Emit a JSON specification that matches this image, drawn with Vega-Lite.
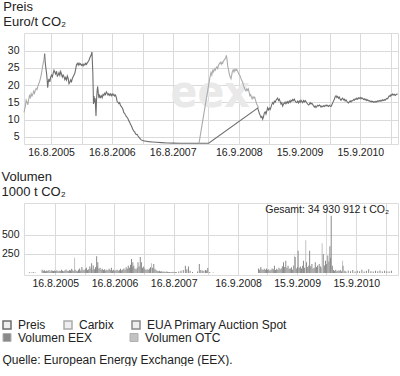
{
  "$schema": "https://vega.github.io/schema/vega-lite/v6.json",
  "padding": {"left": 0, "top": 0, "right": 3, "bottom": 0},
  "background": "white",
  "config": {
    "font": "Liberation Sans",
    "view": {"stroke": "#dcdcdc"},
    "axis": {"labelFont": "Liberation Sans", "labelFontSize": 10.5, "labelColor": "#222", "grid": true, "gridColor": "#dadada", "gridWidth": 1, "domain": false, "ticks": false, "title": null, "labelOverlap": false},
    "legend": {"labelFont": "Liberation Sans", "labelFontSize": 12, "labelColor": "#222"}
  },
  "datasets": {
    "price": [
      {"d":"2005-03-07","v":12.1,"s":"Carbix","g":"a"},{"d":"2005-03-11","v":13.0,"s":"Carbix","g":"a"},{"d":"2005-03-15","v":13.8,"s":"Carbix","g":"a"},{"d":"2005-03-20","v":15.6,"s":"Carbix","g":"a"},{"d":"2005-03-25","v":15.0,"s":"Carbix","g":"a"},{"d":"2005-03-30","v":14.3,"s":"Carbix","g":"a"},{"d":"2005-04-04","v":15.8,"s":"Carbix","g":"a"},{"d":"2005-04-09","v":16.9,"s":"Carbix","g":"a"},{"d":"2005-04-14","v":16.4,"s":"Carbix","g":"a"},{"d":"2005-04-19","v":17.5,"s":"Carbix","g":"a"},{"d":"2005-04-24","v":16.8,"s":"Carbix","g":"a"},{"d":"2005-04-29","v":17.3,"s":"Carbix","g":"a"},{"d":"2005-05-04","v":18.2,"s":"Carbix","g":"a"},{"d":"2005-05-09","v":17.6,"s":"Carbix","g":"a"},{"d":"2005-05-14","v":18.5,"s":"Carbix","g":"a"},{"d":"2005-05-19","v":19.0,"s":"Carbix","g":"a"},{"d":"2005-05-24","v":18.7,"s":"Carbix","g":"a"},{"d":"2005-05-29","v":19.6,"s":"Carbix","g":"a"},{"d":"2005-06-03","v":20.3,"s":"Carbix","g":"a"},{"d":"2005-06-08","v":20.9,"s":"Carbix","g":"a"},{"d":"2005-06-13","v":21.8,"s":"Carbix","g":"a"},{"d":"2005-06-18","v":22.9,"s":"Carbix","g":"a"},{"d":"2005-06-23","v":24.3,"s":"Carbix","g":"a"},{"d":"2005-06-28","v":25.8,"s":"Carbix","g":"a"},{"d":"2005-07-03","v":27.0,"s":"Carbix","g":"a"},{"d":"2005-07-07","v":28.2,"s":"Carbix","g":"a"},{"d":"2005-07-09","v":29.1,"s":"Carbix","g":"a"},
      {"d":"2005-07-09","v":29.1,"s":"Preis","g":"b"},{"d":"2005-07-12","v":26.8,"s":"Preis","g":"b"},{"d":"2005-07-16","v":25.0,"s":"Preis","g":"b"},{"d":"2005-07-20","v":23.6,"s":"Preis","g":"b"},{"d":"2005-07-24","v":21.5,"s":"Preis","g":"b"},{"d":"2005-07-27","v":19.2,"s":"Preis","g":"b"},{"d":"2005-07-31","v":21.0,"s":"Preis","g":"b"},{"d":"2005-08-04","v":21.8,"s":"Preis","g":"b"},{"d":"2005-08-09","v":20.9,"s":"Preis","g":"b"},{"d":"2005-08-14","v":22.3,"s":"Preis","g":"b"},{"d":"2005-08-19","v":22.9,"s":"Preis","g":"b"},{"d":"2005-08-24","v":22.4,"s":"Preis","g":"b"},{"d":"2005-08-29","v":23.4,"s":"Preis","g":"b"},{"d":"2005-09-03","v":24.3,"s":"Preis","g":"b"},{"d":"2005-09-08","v":23.7,"s":"Preis","g":"b"},{"d":"2005-09-13","v":23.2,"s":"Preis","g":"b"},{"d":"2005-09-18","v":24.0,"s":"Preis","g":"b"},{"d":"2005-09-23","v":22.6,"s":"Preis","g":"b"},{"d":"2005-09-28","v":22.9,"s":"Preis","g":"b"},{"d":"2005-10-03","v":23.6,"s":"Preis","g":"b"},{"d":"2005-10-08","v":22.8,"s":"Preis","g":"b"},{"d":"2005-10-13","v":23.9,"s":"Preis","g":"b"},{"d":"2005-10-18","v":23.2,"s":"Preis","g":"b"},{"d":"2005-10-23","v":22.3,"s":"Preis","g":"b"},{"d":"2005-10-28","v":22.9,"s":"Preis","g":"b"},{"d":"2005-11-02","v":22.4,"s":"Preis","g":"b"},{"d":"2005-11-07","v":21.6,"s":"Preis","g":"b"},{"d":"2005-11-12","v":22.2,"s":"Preis","g":"b"},{"d":"2005-11-17","v":21.5,"s":"Preis","g":"b"},{"d":"2005-11-22","v":22.6,"s":"Preis","g":"b"},{"d":"2005-11-27","v":21.9,"s":"Preis","g":"b"},{"d":"2005-12-02","v":20.4,"s":"Preis","g":"b"},{"d":"2005-12-07","v":20.8,"s":"Preis","g":"b"},{"d":"2005-12-12","v":21.5,"s":"Preis","g":"b"},{"d":"2005-12-17","v":21.0,"s":"Preis","g":"b"},{"d":"2005-12-22","v":21.9,"s":"Preis","g":"b"},{"d":"2005-12-27","v":22.4,"s":"Preis","g":"b"},{"d":"2006-01-01","v":22.9,"s":"Preis","g":"b"},{"d":"2006-01-06","v":23.4,"s":"Preis","g":"b"},{"d":"2006-01-11","v":24.6,"s":"Preis","g":"b"},{"d":"2006-01-16","v":25.9,"s":"Preis","g":"b"},{"d":"2006-01-21","v":26.3,"s":"Preis","g":"b"},{"d":"2006-01-26","v":25.8,"s":"Preis","g":"b"},{"d":"2006-01-31","v":26.4,"s":"Preis","g":"b"},{"d":"2006-02-05","v":25.9,"s":"Preis","g":"b"},{"d":"2006-02-10","v":26.2,"s":"Preis","g":"b"},{"d":"2006-02-15","v":25.7,"s":"Preis","g":"b"},{"d":"2006-02-20","v":26.0,"s":"Preis","g":"b"},{"d":"2006-02-25","v":25.6,"s":"Preis","g":"b"},{"d":"2006-03-02","v":26.1,"s":"Preis","g":"b"},{"d":"2006-03-07","v":25.8,"s":"Preis","g":"b"},{"d":"2006-03-12","v":26.3,"s":"Preis","g":"b"},{"d":"2006-03-17","v":26.0,"s":"Preis","g":"b"},{"d":"2006-03-22","v":26.5,"s":"Preis","g":"b"},{"d":"2006-03-27","v":26.8,"s":"Preis","g":"b"},{"d":"2006-04-01","v":27.2,"s":"Preis","g":"b"},{"d":"2006-04-06","v":27.9,"s":"Preis","g":"b"},{"d":"2006-04-11","v":28.4,"s":"Preis","g":"b"},{"d":"2006-04-16","v":29.0,"s":"Preis","g":"b"},{"d":"2006-04-19","v":29.6,"s":"Preis","g":"b"},{"d":"2006-04-21","v":27.0,"s":"Preis","g":"b"},{"d":"2006-04-24","v":23.5,"s":"Preis","g":"b"},{"d":"2006-04-26","v":19.0,"s":"Preis","g":"b"},{"d":"2006-04-28","v":14.5,"s":"Preis","g":"b"},{"d":"2006-05-01","v":16.8,"s":"Preis","g":"b"},{"d":"2006-05-04","v":15.0,"s":"Preis","g":"b"},{"d":"2006-05-08","v":16.2,"s":"Preis","g":"b"},{"d":"2006-05-11","v":13.0,"s":"Preis","g":"b"},{"d":"2006-05-13","v":11.0,"s":"Preis","g":"b"},{"d":"2006-05-16","v":15.5,"s":"Preis","g":"b"},{"d":"2006-05-20","v":18.5,"s":"Preis","g":"b"},{"d":"2006-05-23","v":19.6,"s":"Preis","g":"b"},{"d":"2006-05-27","v":17.5,"s":"Preis","g":"b"},{"d":"2006-05-31","v":16.2,"s":"Preis","g":"b"},{"d":"2006-06-04","v":17.0,"s":"Preis","g":"b"},{"d":"2006-06-09","v":16.4,"s":"Preis","g":"b"},{"d":"2006-06-14","v":16.9,"s":"Preis","g":"b"},{"d":"2006-06-19","v":16.3,"s":"Preis","g":"b"},{"d":"2006-06-24","v":17.3,"s":"Preis","g":"b"},{"d":"2006-06-29","v":17.0,"s":"Preis","g":"b"},{"d":"2006-07-04","v":17.6,"s":"Preis","g":"b"},{"d":"2006-07-09","v":17.2,"s":"Preis","g":"b"},{"d":"2006-07-14","v":18.0,"s":"Preis","g":"b"},{"d":"2006-07-19","v":17.6,"s":"Preis","g":"b"},{"d":"2006-07-24","v":17.1,"s":"Preis","g":"b"},{"d":"2006-07-29","v":17.5,"s":"Preis","g":"b"},{"d":"2006-08-03","v":17.0,"s":"Preis","g":"b"},{"d":"2006-08-08","v":17.4,"s":"Preis","g":"b"},{"d":"2006-08-13","v":16.9,"s":"Preis","g":"b"},{"d":"2006-08-18","v":17.4,"s":"Preis","g":"b"},{"d":"2006-08-23","v":17.0,"s":"Preis","g":"b"},{"d":"2006-08-28","v":17.3,"s":"Preis","g":"b"},{"d":"2006-09-02","v":16.8,"s":"Preis","g":"b"},{"d":"2006-09-07","v":17.1,"s":"Preis","g":"b"},{"d":"2006-09-12","v":16.4,"s":"Preis","g":"b"},{"d":"2006-09-17","v":15.2,"s":"Preis","g":"b"},{"d":"2006-09-22","v":15.0,"s":"Preis","g":"b"},{"d":"2006-09-27","v":14.6,"s":"Preis","g":"b"},{"d":"2006-10-02","v":14.9,"s":"Preis","g":"b"},{"d":"2006-10-07","v":14.0,"s":"Preis","g":"b"},{"d":"2006-10-12","v":13.8,"s":"Preis","g":"b"},{"d":"2006-10-17","v":13.4,"s":"Preis","g":"b"},{"d":"2006-10-22","v":12.9,"s":"Preis","g":"b"},{"d":"2006-10-27","v":12.0,"s":"Preis","g":"b"},{"d":"2006-11-01","v":11.8,"s":"Preis","g":"b"},{"d":"2006-11-06","v":11.3,"s":"Preis","g":"b"},{"d":"2006-11-11","v":10.9,"s":"Preis","g":"b"},{"d":"2006-11-16","v":10.6,"s":"Preis","g":"b"},{"d":"2006-11-21","v":10.2,"s":"Preis","g":"b"},{"d":"2006-11-26","v":9.6,"s":"Preis","g":"b"},{"d":"2006-12-01","v":9.2,"s":"Preis","g":"b"},{"d":"2006-12-06","v":8.6,"s":"Preis","g":"b"},{"d":"2006-12-11","v":8.2,"s":"Preis","g":"b"},{"d":"2006-12-16","v":7.6,"s":"Preis","g":"b"},{"d":"2006-12-21","v":7.0,"s":"Preis","g":"b"},{"d":"2006-12-26","v":6.6,"s":"Preis","g":"b"},{"d":"2006-12-31","v":6.4,"s":"Preis","g":"b"},{"d":"2007-01-05","v":5.9,"s":"Preis","g":"b"},{"d":"2007-01-10","v":5.6,"s":"Preis","g":"b"},{"d":"2007-01-15","v":5.7,"s":"Preis","g":"b"},{"d":"2007-01-20","v":5.2,"s":"Preis","g":"b"},{"d":"2007-01-25","v":4.9,"s":"Preis","g":"b"},{"d":"2007-01-30","v":4.6,"s":"Preis","g":"b"},{"d":"2007-02-04","v":4.3,"s":"Preis","g":"b"},{"d":"2007-02-09","v":4.1,"s":"Preis","g":"b"},{"d":"2007-02-16","v":3.9,"s":"Preis","g":"b"},{"d":"2007-02-25","v":3.8,"s":"Preis","g":"b"},{"d":"2007-03-10","v":3.7,"s":"Preis","g":"b"},{"d":"2007-03-25","v":3.6,"s":"Preis","g":"b"},{"d":"2007-04-15","v":3.5,"s":"Preis","g":"b"},{"d":"2007-05-10","v":3.4,"s":"Preis","g":"b"},{"d":"2007-06-10","v":3.3,"s":"Preis","g":"b"},{"d":"2007-07-15","v":3.2,"s":"Preis","g":"b"},{"d":"2007-08-20","v":3.15,"s":"Preis","g":"b"},{"d":"2007-10-01","v":3.1,"s":"Preis","g":"b"},{"d":"2007-11-15","v":3.1,"s":"Preis","g":"b"},{"d":"2008-01-05","v":3.1,"s":"Preis","g":"b"},{"d":"2008-03-19","v":3.1,"s":"Preis","g":"b"},
      {"d":"2009-01-07","v":13.3,"s":"Preis","g":"b"},{"d":"2009-01-12","v":12.6,"s":"Preis","g":"b"},{"d":"2009-01-17","v":11.8,"s":"Preis","g":"b"},{"d":"2009-01-22","v":11.2,"s":"Preis","g":"b"},{"d":"2009-01-27","v":10.6,"s":"Preis","g":"b"},{"d":"2009-02-01","v":10.9,"s":"Preis","g":"b"},{"d":"2009-02-06","v":10.1,"s":"Preis","g":"b"},{"d":"2009-02-11","v":10.8,"s":"Preis","g":"b"},{"d":"2009-02-16","v":11.9,"s":"Preis","g":"b"},{"d":"2009-02-21","v":12.2,"s":"Preis","g":"b"},{"d":"2009-02-26","v":11.6,"s":"Preis","g":"b"},{"d":"2009-03-03","v":12.5,"s":"Preis","g":"b"},{"d":"2009-03-08","v":13.4,"s":"Preis","g":"b"},{"d":"2009-03-13","v":12.8,"s":"Preis","g":"b"},{"d":"2009-03-18","v":13.3,"s":"Preis","g":"b"},{"d":"2009-03-23","v":12.9,"s":"Preis","g":"b"},{"d":"2009-03-28","v":13.6,"s":"Preis","g":"b"},{"d":"2009-04-02","v":14.4,"s":"Preis","g":"b"},{"d":"2009-04-07","v":14.9,"s":"Preis","g":"b"},{"d":"2009-04-12","v":14.5,"s":"Preis","g":"b"},{"d":"2009-04-17","v":15.3,"s":"Preis","g":"b"},{"d":"2009-04-22","v":15.0,"s":"Preis","g":"b"},{"d":"2009-04-27","v":15.6,"s":"Preis","g":"b"},{"d":"2009-05-02","v":15.9,"s":"Preis","g":"b"},{"d":"2009-05-07","v":16.2,"s":"Preis","g":"b"},{"d":"2009-05-12","v":15.5,"s":"Preis","g":"b"},{"d":"2009-05-17","v":15.9,"s":"Preis","g":"b"},{"d":"2009-05-22","v":15.2,"s":"Preis","g":"b"},{"d":"2009-05-27","v":14.5,"s":"Preis","g":"b"},{"d":"2009-06-01","v":14.9,"s":"Preis","g":"b"},{"d":"2009-06-06","v":13.9,"s":"Preis","g":"b"},{"d":"2009-06-11","v":14.4,"s":"Preis","g":"b"},{"d":"2009-06-16","v":14.9,"s":"Preis","g":"b"},{"d":"2009-06-21","v":14.6,"s":"Preis","g":"b"},{"d":"2009-06-26","v":15.1,"s":"Preis","g":"b"},{"d":"2009-07-01","v":14.7,"s":"Preis","g":"b"},{"d":"2009-07-06","v":15.2,"s":"Preis","g":"b"},{"d":"2009-07-11","v":14.8,"s":"Preis","g":"b"},{"d":"2009-07-16","v":15.4,"s":"Preis","g":"b"},{"d":"2009-07-21","v":15.0,"s":"Preis","g":"b"},{"d":"2009-07-26","v":15.6,"s":"Preis","g":"b"},{"d":"2009-07-31","v":15.3,"s":"Preis","g":"b"},{"d":"2009-08-05","v":15.8,"s":"Preis","g":"b"},{"d":"2009-08-10","v":15.5,"s":"Preis","g":"b"},{"d":"2009-08-15","v":15.9,"s":"Preis","g":"b"},{"d":"2009-08-20","v":15.4,"s":"Preis","g":"b"},{"d":"2009-08-25","v":15.0,"s":"Preis","g":"b"},{"d":"2009-08-30","v":14.9,"s":"Preis","g":"b"},{"d":"2009-09-04","v":15.3,"s":"Preis","g":"b"},{"d":"2009-09-09","v":14.8,"s":"Preis","g":"b"},{"d":"2009-09-14","v":15.4,"s":"Preis","g":"b"},{"d":"2009-09-19","v":15.0,"s":"Preis","g":"b"},{"d":"2009-09-24","v":15.6,"s":"Preis","g":"b"},{"d":"2009-09-29","v":15.2,"s":"Preis","g":"b"},{"d":"2009-10-04","v":14.9,"s":"Preis","g":"b"},{"d":"2009-10-09","v":15.5,"s":"Preis","g":"b"},{"d":"2009-10-14","v":15.1,"s":"Preis","g":"b"},{"d":"2009-10-19","v":15.5,"s":"Preis","g":"b"},{"d":"2009-10-24","v":15.2,"s":"Preis","g":"b"},{"d":"2009-10-29","v":14.8,"s":"Preis","g":"b"},{"d":"2009-11-03","v":14.5,"s":"Preis","g":"b"},{"d":"2009-11-08","v":14.2,"s":"Preis","g":"b"},{"d":"2009-11-13","v":14.4,"s":"Preis","g":"b"},{"d":"2009-11-18","v":14.9,"s":"Preis","g":"b"},{"d":"2009-11-23","v":14.5,"s":"Preis","g":"b"},{"d":"2009-11-28","v":14.7,"s":"Preis","g":"b"},{"d":"2009-12-03","v":14.4,"s":"Preis","g":"b"},{"d":"2009-12-08","v":14.0,"s":"Preis","g":"b"},{"d":"2009-12-13","v":13.6,"s":"Preis","g":"b"},{"d":"2009-12-18","v":13.9,"s":"Preis","g":"b"},{"d":"2009-12-23","v":13.5,"s":"Preis","g":"b"},{"d":"2009-12-28","v":13.8,"s":"Preis","g":"b"},{"d":"2010-01-02","v":14.1,"s":"Preis","g":"b"},{"d":"2010-01-07","v":13.9,"s":"Preis","g":"b"},{"d":"2010-01-12","v":14.2,"s":"Preis","g":"b"},{"d":"2010-01-17","v":14.0,"s":"Preis","g":"b"},{"d":"2010-01-22","v":13.6,"s":"Preis","g":"b"},{"d":"2010-01-27","v":13.9,"s":"Preis","g":"b"},{"d":"2010-02-01","v":13.7,"s":"Preis","g":"b"},{"d":"2010-02-06","v":14.0,"s":"Preis","g":"b"},{"d":"2010-02-11","v":13.8,"s":"Preis","g":"b"},{"d":"2010-02-16","v":14.1,"s":"Preis","g":"b"},{"d":"2010-02-21","v":13.9,"s":"Preis","g":"b"},{"d":"2010-02-26","v":14.2,"s":"Preis","g":"b"},{"d":"2010-03-03","v":14.0,"s":"Preis","g":"b"},{"d":"2010-03-08","v":13.8,"s":"Preis","g":"b"},{"d":"2010-03-13","v":14.1,"s":"Preis","g":"b"},{"d":"2010-03-18","v":13.9,"s":"Preis","g":"b"},{"d":"2010-03-23","v":13.8,"s":"Preis","g":"b"},{"d":"2010-03-28","v":14.3,"s":"Preis","g":"b"},{"d":"2010-04-02","v":14.8,"s":"Preis","g":"b"},{"d":"2010-04-07","v":15.4,"s":"Preis","g":"b"},{"d":"2010-04-12","v":15.9,"s":"Preis","g":"b"},{"d":"2010-04-17","v":16.6,"s":"Preis","g":"b"},{"d":"2010-04-22","v":16.9,"s":"Preis","g":"b"},{"d":"2010-04-27","v":16.4,"s":"Preis","g":"b"},{"d":"2010-05-02","v":16.7,"s":"Preis","g":"b"},{"d":"2010-05-07","v":16.2,"s":"Preis","g":"b"},{"d":"2010-05-12","v":16.5,"s":"Preis","g":"b"},{"d":"2010-05-17","v":15.9,"s":"Preis","g":"b"},{"d":"2010-05-22","v":15.6,"s":"Preis","g":"b"},{"d":"2010-05-27","v":16.0,"s":"Preis","g":"b"},{"d":"2010-06-01","v":16.2,"s":"Preis","g":"b"},{"d":"2010-06-06","v":15.7,"s":"Preis","g":"b"},{"d":"2010-06-11","v":15.9,"s":"Preis","g":"b"},{"d":"2010-06-16","v":15.4,"s":"Preis","g":"b"},{"d":"2010-06-21","v":15.7,"s":"Preis","g":"b"},{"d":"2010-06-26","v":15.3,"s":"Preis","g":"b"},{"d":"2010-07-01","v":15.0,"s":"Preis","g":"b"},{"d":"2010-07-06","v":14.8,"s":"Preis","g":"b"},{"d":"2010-07-11","v":15.1,"s":"Preis","g":"b"},{"d":"2010-07-16","v":15.4,"s":"Preis","g":"b"},{"d":"2010-07-21","v":15.1,"s":"Preis","g":"b"},{"d":"2010-07-26","v":15.5,"s":"Preis","g":"b"},{"d":"2010-07-31","v":15.4,"s":"Preis","g":"b"},{"d":"2010-08-05","v":15.8,"s":"Preis","g":"b"},{"d":"2010-08-10","v":15.6,"s":"Preis","g":"b"},{"d":"2010-08-15","v":16.0,"s":"Preis","g":"b"},{"d":"2010-08-20","v":15.8,"s":"Preis","g":"b"},{"d":"2010-08-25","v":16.2,"s":"Preis","g":"b"},{"d":"2010-08-30","v":15.9,"s":"Preis","g":"b"},{"d":"2010-09-04","v":16.3,"s":"Preis","g":"b"},{"d":"2010-09-09","v":16.1,"s":"Preis","g":"b"},{"d":"2010-09-14","v":16.4,"s":"Preis","g":"b"},{"d":"2010-09-19","v":16.0,"s":"Preis","g":"b"},{"d":"2010-09-24","v":16.3,"s":"Preis","g":"b"},{"d":"2010-09-29","v":16.1,"s":"Preis","g":"b"},{"d":"2010-10-04","v":15.8,"s":"Preis","g":"b"},{"d":"2010-10-09","v":16.0,"s":"Preis","g":"b"},{"d":"2010-10-14","v":15.7,"s":"Preis","g":"b"},{"d":"2010-10-19","v":15.9,"s":"Preis","g":"b"},{"d":"2010-10-24","v":15.5,"s":"Preis","g":"b"},{"d":"2010-10-29","v":15.7,"s":"Preis","g":"b"},{"d":"2010-11-03","v":15.4,"s":"Preis","g":"b"},{"d":"2010-11-08","v":15.5,"s":"Preis","g":"b"},{"d":"2010-11-13","v":15.2,"s":"Preis","g":"b"},{"d":"2010-11-18","v":15.4,"s":"Preis","g":"b"},{"d":"2010-11-23","v":15.1,"s":"Preis","g":"b"},{"d":"2010-11-28","v":15.3,"s":"Preis","g":"b"},{"d":"2010-12-03","v":15.0,"s":"Preis","g":"b"},{"d":"2010-12-08","v":15.2,"s":"Preis","g":"b"},{"d":"2010-12-13","v":15.0,"s":"Preis","g":"b"},{"d":"2010-12-18","v":15.3,"s":"Preis","g":"b"},{"d":"2010-12-23","v":15.1,"s":"Preis","g":"b"},{"d":"2010-12-28","v":15.4,"s":"Preis","g":"b"},{"d":"2011-01-02","v":15.3,"s":"Preis","g":"b"},{"d":"2011-01-07","v":15.5,"s":"Preis","g":"b"},{"d":"2011-01-12","v":15.3,"s":"Preis","g":"b"},{"d":"2011-01-17","v":15.6,"s":"Preis","g":"b"},{"d":"2011-01-22","v":15.4,"s":"Preis","g":"b"},{"d":"2011-01-27","v":15.7,"s":"Preis","g":"b"},{"d":"2011-02-01","v":15.5,"s":"Preis","g":"b"},{"d":"2011-02-06","v":15.8,"s":"Preis","g":"b"},{"d":"2011-02-11","v":15.6,"s":"Preis","g":"b"},{"d":"2011-02-16","v":15.9,"s":"Preis","g":"b"},{"d":"2011-02-21","v":16.1,"s":"Preis","g":"b"},{"d":"2011-02-26","v":16.0,"s":"Preis","g":"b"},{"d":"2011-03-03","v":16.5,"s":"Preis","g":"b"},{"d":"2011-03-08","v":16.9,"s":"Preis","g":"b"},{"d":"2011-03-13","v":16.7,"s":"Preis","g":"b"},{"d":"2011-03-18","v":17.2,"s":"Preis","g":"b"},{"d":"2011-03-23","v":17.0,"s":"Preis","g":"b"},{"d":"2011-03-28","v":17.4,"s":"Preis","g":"b"},{"d":"2011-04-02","v":17.1,"s":"Preis","g":"b"},{"d":"2011-04-07","v":17.3,"s":"Preis","g":"b"},{"d":"2011-04-12","v":17.0,"s":"Preis","g":"b"},{"d":"2011-04-17","v":17.2,"s":"Preis","g":"b"},{"d":"2011-04-22","v":17.4,"s":"Preis","g":"b"},{"d":"2011-04-27","v":17.3,"s":"Preis","g":"b"},
      {"d":"2008-01-21","v":3.1,"s":"Carbix","g":"c"},{"d":"2008-03-23","v":21.3,"s":"Carbix","g":"c"},{"d":"2008-03-28","v":22.5,"s":"Carbix","g":"c"},{"d":"2008-04-02","v":23.6,"s":"Carbix","g":"c"},{"d":"2008-04-07","v":22.9,"s":"Carbix","g":"c"},{"d":"2008-04-12","v":24.2,"s":"Carbix","g":"c"},{"d":"2008-04-17","v":23.8,"s":"Carbix","g":"c"},{"d":"2008-04-22","v":24.7,"s":"Carbix","g":"c"},{"d":"2008-04-27","v":24.3,"s":"Carbix","g":"c"},{"d":"2008-05-02","v":24.9,"s":"Carbix","g":"c"},{"d":"2008-05-07","v":25.3,"s":"Carbix","g":"c"},{"d":"2008-05-12","v":24.8,"s":"Carbix","g":"c"},{"d":"2008-05-16","v":25.6,"s":"Carbix","g":"c"},{"d":"2008-05-21","v":26.1,"s":"Carbix","g":"c"},{"d":"2008-05-28","v":26.6,"s":"Carbix","g":"c"},{"d":"2008-06-02","v":26.0,"s":"Carbix","g":"c"},{"d":"2008-06-07","v":26.6,"s":"Carbix","g":"c"},{"d":"2008-06-11","v":26.3,"s":"Carbix","g":"c"},{"d":"2008-06-16","v":27.0,"s":"Carbix","g":"c"},{"d":"2008-06-21","v":27.3,"s":"Carbix","g":"c"},{"d":"2008-06-25","v":27.6,"s":"Carbix","g":"c"},{"d":"2008-06-30","v":28.0,"s":"Carbix","g":"c"},{"d":"2008-07-03","v":28.6,"s":"Carbix","g":"c"},{"d":"2008-07-07","v":27.5,"s":"Carbix","g":"c"},{"d":"2008-07-11","v":25.6,"s":"Carbix","g":"c"},{"d":"2008-07-16","v":24.5,"s":"Carbix","g":"c"},{"d":"2008-07-21","v":23.2,"s":"Carbix","g":"c"},{"d":"2008-07-26","v":22.3,"s":"Carbix","g":"c"},{"d":"2008-07-31","v":21.8,"s":"Carbix","g":"c"},{"d":"2008-08-04","v":22.8,"s":"Carbix","g":"c"},{"d":"2008-08-08","v":23.9,"s":"Carbix","g":"c"},{"d":"2008-08-13","v":24.4,"s":"Carbix","g":"c"},{"d":"2008-08-18","v":23.8,"s":"Carbix","g":"c"},{"d":"2008-08-24","v":24.6,"s":"Carbix","g":"c"},{"d":"2008-08-29","v":24.2,"s":"Carbix","g":"c"},{"d":"2008-09-03","v":24.5,"s":"Carbix","g":"c"},{"d":"2008-09-09","v":24.0,"s":"Carbix","g":"c"},{"d":"2008-09-14","v":23.4,"s":"Carbix","g":"c"},{"d":"2008-09-19","v":23.0,"s":"Carbix","g":"c"},{"d":"2008-09-23","v":22.7,"s":"Carbix","g":"c"},{"d":"2008-09-28","v":22.0,"s":"Carbix","g":"c"},{"d":"2008-10-03","v":21.4,"s":"Carbix","g":"c"},{"d":"2008-10-09","v":20.8,"s":"Carbix","g":"c"},{"d":"2008-10-14","v":19.9,"s":"Carbix","g":"c"},{"d":"2008-10-19","v":19.2,"s":"Carbix","g":"c"},{"d":"2008-10-24","v":18.6,"s":"Carbix","g":"c"},{"d":"2008-10-29","v":18.3,"s":"Carbix","g":"c"},{"d":"2008-11-03","v":18.9,"s":"Carbix","g":"c"},{"d":"2008-11-08","v":18.5,"s":"Carbix","g":"c"},{"d":"2008-11-12","v":18.9,"s":"Carbix","g":"c"},{"d":"2008-11-17","v":17.9,"s":"Carbix","g":"c"},{"d":"2008-11-21","v":16.9,"s":"Carbix","g":"c"},{"d":"2008-11-26","v":17.2,"s":"Carbix","g":"c"},{"d":"2008-12-01","v":16.4,"s":"Carbix","g":"c"},{"d":"2008-12-05","v":16.0,"s":"Carbix","g":"c"},{"d":"2008-12-10","v":16.6,"s":"Carbix","g":"c"},{"d":"2008-12-15","v":16.2,"s":"Carbix","g":"c"},{"d":"2008-12-20","v":16.5,"s":"Carbix","g":"c"},{"d":"2008-12-25","v":15.6,"s":"Carbix","g":"c"},{"d":"2009-01-01","v":14.5,"s":"Carbix","g":"c"},{"d":"2009-01-07","v":14.0,"s":"Carbix","g":"c"},{"d":"2009-01-12","v":13.3,"s":"Carbix","g":"c"}
    ],
    "volume": [
      {"d":"2005-03-09","v":12,"k":"Volumen EEX"},{"d":"2005-03-21","v":9,"k":"Volumen EEX"},{"d":"2005-04-02","v":14,"k":"Volumen EEX"},{"d":"2005-04-14","v":8,"k":"Volumen EEX"},
      {"d":"2005-05-27","v":45,"k":"Volumen EEX"},{"d":"2005-06-03","v":30,"k":"Volumen EEX"},{"d":"2005-06-10","v":38,"k":"Volumen EEX"},{"d":"2005-06-17","v":25,"k":"Volumen EEX"},{"d":"2005-06-24","v":35,"k":"Volumen EEX"},{"d":"2005-07-01","v":28,"k":"Volumen EEX"},{"d":"2005-07-08","v":40,"k":"Volumen EEX"},{"d":"2005-07-15","v":22,"k":"Volumen EEX"},{"d":"2005-07-22","v":36,"k":"Volumen EEX"},{"d":"2005-07-29","v":30,"k":"Volumen EEX"},{"d":"2005-08-05","v":26,"k":"Volumen EEX"},{"d":"2005-08-12","v":34,"k":"Volumen EEX"},{"d":"2005-08-19","v":28,"k":"Volumen EEX"},{"d":"2005-08-26","v":38,"k":"Volumen EEX"},{"d":"2005-09-02","v":24,"k":"Volumen EEX"},{"d":"2005-09-09","v":32,"k":"Volumen EEX"},{"d":"2005-09-16","v":27,"k":"Volumen EEX"},{"d":"2005-09-23","v":42,"k":"Volumen EEX"},{"d":"2005-09-30","v":30,"k":"Volumen EEX"},{"d":"2005-10-07","v":25,"k":"Volumen EEX"},{"d":"2005-10-14","v":35,"k":"Volumen EEX"},{"d":"2005-10-21","v":48,"k":"Volumen EEX"},{"d":"2005-10-28","v":30,"k":"Volumen EEX"},{"d":"2005-11-04","v":26,"k":"Volumen EEX"},{"d":"2005-11-11","v":40,"k":"Volumen EEX"},{"d":"2005-11-18","v":33,"k":"Volumen EEX"},{"d":"2005-11-25","v":55,"k":"Volumen EEX"},{"d":"2005-12-02","v":38,"k":"Volumen EEX"},{"d":"2005-12-09","v":28,"k":"Volumen EEX"},{"d":"2005-12-13","v":200,"k":"Volumen OTC"},{"d":"2005-12-16","v":45,"k":"Volumen EEX"},{"d":"2005-12-23","v":30,"k":"Volumen EEX"},{"d":"2005-12-30","v":25,"k":"Volumen EEX"},
      {"d":"2006-01-06","v":42,"k":"Volumen EEX"},{"d":"2006-01-13","v":60,"k":"Volumen EEX"},{"d":"2006-01-20","v":35,"k":"Volumen EEX"},{"d":"2006-01-27","v":80,"k":"Volumen EEX"},{"d":"2006-02-03","v":45,"k":"Volumen EEX"},{"d":"2006-02-10","v":38,"k":"Volumen EEX"},{"d":"2006-02-17","v":55,"k":"Volumen EEX"},{"d":"2006-02-24","v":70,"k":"Volumen EEX"},{"d":"2006-03-03","v":40,"k":"Volumen EEX"},{"d":"2006-03-10","v":50,"k":"Volumen EEX"},{"d":"2006-03-17","v":85,"k":"Volumen EEX"},{"d":"2006-03-24","v":60,"k":"Volumen EEX"},{"d":"2006-03-28","v":130,"k":"Volumen EEX"},{"d":"2006-03-31","v":45,"k":"Volumen EEX"},{"d":"2006-04-07","v":100,"k":"Volumen EEX"},{"d":"2006-04-14","v":50,"k":"Volumen EEX"},{"d":"2006-04-21","v":75,"k":"Volumen EEX"},{"d":"2006-04-28","v":220,"k":"Volumen EEX"},{"d":"2006-05-02","v":90,"k":"Volumen EEX"},{"d":"2006-05-05","v":140,"k":"Volumen EEX"},{"d":"2006-05-12","v":60,"k":"Volumen EEX"},{"d":"2006-05-19","v":70,"k":"Volumen EEX"},{"d":"2006-05-26","v":45,"k":"Volumen EEX"},{"d":"2006-06-02","v":55,"k":"Volumen EEX"},{"d":"2006-06-09","v":40,"k":"Volumen EEX"},{"d":"2006-06-16","v":50,"k":"Volumen EEX"},{"d":"2006-06-23","v":35,"k":"Volumen EEX"},{"d":"2006-06-30","v":45,"k":"Volumen EEX"},{"d":"2006-07-07","v":38,"k":"Volumen EEX"},{"d":"2006-07-14","v":55,"k":"Volumen EEX"},{"d":"2006-07-21","v":40,"k":"Volumen EEX"},{"d":"2006-07-28","v":70,"k":"Volumen EEX"},{"d":"2006-08-04","v":35,"k":"Volumen EEX"},{"d":"2006-08-11","v":42,"k":"Volumen EEX"},{"d":"2006-08-18","v":30,"k":"Volumen EEX"},{"d":"2006-08-25","v":38,"k":"Volumen EEX"},{"d":"2006-09-01","v":45,"k":"Volumen EEX"},{"d":"2006-09-08","v":32,"k":"Volumen EEX"},{"d":"2006-09-15","v":40,"k":"Volumen EEX"},{"d":"2006-09-22","v":55,"k":"Volumen EEX"},{"d":"2006-09-29","v":36,"k":"Volumen EEX"},{"d":"2006-10-06","v":48,"k":"Volumen EEX"},{"d":"2006-10-13","v":60,"k":"Volumen EEX"},{"d":"2006-10-20","v":42,"k":"Volumen EEX"},{"d":"2006-10-27","v":75,"k":"Volumen EEX"},{"d":"2006-11-03","v":55,"k":"Volumen EEX"},{"d":"2006-11-09","v":95,"k":"Volumen EEX"},{"d":"2006-11-16","v":70,"k":"Volumen EEX"},{"d":"2006-11-23","v":110,"k":"Volumen EEX"},{"d":"2006-11-29","v":185,"k":"Volumen EEX"},{"d":"2006-12-03","v":80,"k":"Volumen EEX"},{"d":"2006-12-07","v":140,"k":"Volumen EEX"},{"d":"2006-12-13","v":95,"k":"Volumen EEX"},{"d":"2006-12-20","v":60,"k":"Volumen EEX"},{"d":"2006-12-27","v":50,"k":"Volumen EEX"},
      {"d":"2007-01-03","v":70,"k":"Volumen EEX"},{"d":"2007-01-08","v":140,"k":"Volumen EEX"},{"d":"2007-01-15","v":90,"k":"Volumen EEX"},{"d":"2007-01-22","v":210,"k":"Volumen EEX"},{"d":"2007-01-29","v":140,"k":"Volumen EEX"},{"d":"2007-02-05","v":70,"k":"Volumen EEX"},{"d":"2007-02-12","v":85,"k":"Volumen EEX"},{"d":"2007-02-19","v":55,"k":"Volumen EEX"},{"d":"2007-02-26","v":40,"k":"Volumen EEX"},{"d":"2007-03-05","v":50,"k":"Volumen EEX"},{"d":"2007-03-12","v":45,"k":"Volumen EEX"},{"d":"2007-03-19","v":60,"k":"Volumen EEX"},{"d":"2007-03-26","v":75,"k":"Volumen EEX"},{"d":"2007-04-01","v":130,"k":"Volumen OTC"},{"d":"2007-04-08","v":70,"k":"Volumen EEX"},{"d":"2007-04-15","v":120,"k":"Volumen EEX"},{"d":"2007-04-22","v":55,"k":"Volumen EEX"},{"d":"2007-04-29","v":40,"k":"Volumen EEX"},{"d":"2007-05-06","v":30,"k":"Volumen EEX"},{"d":"2007-05-13","v":25,"k":"Volumen EEX"},{"d":"2007-05-20","v":30,"k":"Volumen EEX"},{"d":"2007-05-27","v":20,"k":"Volumen EEX"},{"d":"2007-06-03","v":25,"k":"Volumen EEX"},{"d":"2007-06-10","v":18,"k":"Volumen EEX"},{"d":"2007-06-17","v":22,"k":"Volumen EEX"},{"d":"2007-06-24","v":15,"k":"Volumen EEX"},{"d":"2007-07-01","v":20,"k":"Volumen EEX"},{"d":"2007-07-08","v":18,"k":"Volumen EEX"},{"d":"2007-07-15","v":12,"k":"Volumen EEX"},{"d":"2007-07-22","v":15,"k":"Volumen EEX"},{"d":"2007-07-29","v":10,"k":"Volumen EEX"},{"d":"2007-08-05","v":14,"k":"Volumen EEX"},{"d":"2007-08-12","v":18,"k":"Volumen EEX"},{"d":"2007-08-19","v":12,"k":"Volumen EEX"},{"d":"2007-08-26","v":15,"k":"Volumen EEX"},{"d":"2007-09-02","v":10,"k":"Volumen EEX"},{"d":"2007-09-16","v":20,"k":"Volumen EEX"},{"d":"2007-09-30","v":30,"k":"Volumen EEX"},{"d":"2007-10-14","v":40,"k":"Volumen EEX"},{"d":"2007-10-27","v":95,"k":"Volumen EEX"},{"d":"2007-11-05","v":50,"k":"Volumen EEX"},{"d":"2007-11-15","v":85,"k":"Volumen EEX"},{"d":"2007-11-25","v":30,"k":"Volumen EEX"},{"d":"2007-12-10","v":15,"k":"Volumen EEX"},
      {"d":"2008-01-10","v":20,"k":"Volumen EEX"},{"d":"2008-01-21","v":120,"k":"Volumen EEX"},{"d":"2008-01-30","v":40,"k":"Volumen EEX"},{"d":"2008-02-08","v":35,"k":"Volumen EEX"},{"d":"2008-02-18","v":30,"k":"Volumen EEX"},{"d":"2008-02-28","v":40,"k":"Volumen EEX"},{"d":"2008-03-06","v":35,"k":"Volumen EEX"},{"d":"2008-03-13","v":65,"k":"Volumen EEX"},{"d":"2008-03-25","v":15,"k":"Volumen EEX"},{"d":"2008-04-15","v":8,"k":"Volumen EEX"},
      {"d":"2009-01-20","v":60,"k":"Volumen EEX"},{"d":"2009-01-27","v":45,"k":"Volumen EEX"},{"d":"2009-02-03","v":80,"k":"Volumen EEX"},{"d":"2009-02-10","v":50,"k":"Volumen EEX"},{"d":"2009-02-17","v":40,"k":"Volumen EEX"},{"d":"2009-02-24","v":55,"k":"Volumen EEX"},{"d":"2009-03-03","v":45,"k":"Volumen EEX"},{"d":"2009-03-10","v":60,"k":"Volumen EEX"},{"d":"2009-03-17","v":40,"k":"Volumen EEX"},{"d":"2009-03-24","v":50,"k":"Volumen EEX"},{"d":"2009-03-31","v":35,"k":"Volumen EEX"},{"d":"2009-04-07","v":45,"k":"Volumen EEX"},{"d":"2009-04-14","v":60,"k":"Volumen EEX"},{"d":"2009-04-21","v":50,"k":"Volumen EEX"},{"d":"2009-04-28","v":95,"k":"Volumen EEX"},{"d":"2009-05-05","v":40,"k":"Volumen EEX"},{"d":"2009-05-12","v":55,"k":"Volumen EEX"},{"d":"2009-05-19","v":45,"k":"Volumen EEX"},{"d":"2009-05-26","v":70,"k":"Volumen EEX"},{"d":"2009-06-02","v":50,"k":"Volumen EEX"},{"d":"2009-06-09","v":60,"k":"Volumen EEX"},{"d":"2009-06-16","v":90,"k":"Volumen EEX"},{"d":"2009-06-23","v":140,"k":"Volumen EEX"},{"d":"2009-06-30","v":80,"k":"Volumen EEX"},{"d":"2009-07-07","v":160,"k":"Volumen EEX"},{"d":"2009-07-14","v":70,"k":"Volumen EEX"},{"d":"2009-07-21","v":95,"k":"Volumen EEX"},{"d":"2009-07-28","v":55,"k":"Volumen EEX"},{"d":"2009-08-04","v":60,"k":"Volumen EEX"},{"d":"2009-08-11","v":75,"k":"Volumen EEX"},{"d":"2009-08-18","v":45,"k":"Volumen EEX"},{"d":"2009-08-25","v":100,"k":"Volumen EEX"},{"d":"2009-08-30","v":230,"k":"Volumen OTC"},{"d":"2009-09-03","v":210,"k":"Volumen EEX"},{"d":"2009-09-10","v":60,"k":"Volumen EEX"},{"d":"2009-09-17","v":80,"k":"Volumen EEX"},{"d":"2009-09-21","v":290,"k":"Volumen EEX"},{"d":"2009-09-28","v":70,"k":"Volumen EEX"},{"d":"2009-10-05","v":85,"k":"Volumen EEX"},{"d":"2009-10-12","v":60,"k":"Volumen EEX"},{"d":"2009-10-19","v":95,"k":"Volumen EEX"},{"d":"2009-10-24","v":160,"k":"Volumen EEX"},{"d":"2009-10-31","v":70,"k":"Volumen EEX"},{"d":"2009-11-07","v":430,"k":"Volumen OTC"},{"d":"2009-11-12","v":140,"k":"Volumen EEX"},{"d":"2009-11-19","v":80,"k":"Volumen EEX"},{"d":"2009-11-26","v":100,"k":"Volumen EEX"},{"d":"2009-12-01","v":290,"k":"Volumen EEX"},{"d":"2009-12-08","v":90,"k":"Volumen EEX"},{"d":"2009-12-15","v":120,"k":"Volumen EEX"},{"d":"2009-12-22","v":60,"k":"Volumen EEX"},{"d":"2009-12-29","v":70,"k":"Volumen EEX"},
      {"d":"2010-01-05","v":140,"k":"Volumen EEX"},{"d":"2010-01-12","v":80,"k":"Volumen EEX"},{"d":"2010-01-19","v":100,"k":"Volumen EEX"},{"d":"2010-01-29","v":120,"k":"Volumen EEX"},{"d":"2010-02-05","v":90,"k":"Volumen EEX"},{"d":"2010-02-10","v":70,"k":"Volumen EEX"},{"d":"2010-02-16","v":390,"k":"Volumen OTC"},{"d":"2010-02-23","v":250,"k":"Volumen EEX"},{"d":"2010-03-02","v":100,"k":"Volumen EEX"},{"d":"2010-03-09","v":160,"k":"Volumen EEX"},{"d":"2010-03-16","v":120,"k":"Volumen EEX"},{"d":"2010-03-23","v":230,"k":"Volumen EEX"},{"d":"2010-03-30","v":150,"k":"Volumen EEX"},{"d":"2010-04-05","v":350,"k":"Volumen EEX"},{"d":"2010-04-09","v":200,"k":"Volumen EEX"},{"d":"2010-04-13","v":750,"k":"Volumen EEX"},{"d":"2010-04-20","v":95,"k":"Volumen EEX"},{"d":"2010-04-27","v":40,"k":"Volumen EEX"},{"d":"2010-05-04","v":30,"k":"Volumen EEX"},{"d":"2010-05-11","v":45,"k":"Volumen EEX"},{"d":"2010-05-18","v":25,"k":"Volumen EEX"},{"d":"2010-05-25","v":35,"k":"Volumen EEX"},{"d":"2010-06-01","v":30,"k":"Volumen EEX"},{"d":"2010-06-08","v":40,"k":"Volumen EEX"},{"d":"2010-06-15","v":25,"k":"Volumen EEX"},{"d":"2010-06-22","v":160,"k":"Volumen OTC"},{"d":"2010-06-25","v":95,"k":"Volumen EEX"},{"d":"2010-07-06","v":30,"k":"Volumen EEX"},{"d":"2010-07-13","v":20,"k":"Volumen EEX"},{"d":"2010-07-27","v":35,"k":"Volumen EEX"},{"d":"2010-08-10","v":25,"k":"Volumen EEX"},{"d":"2010-08-24","v":40,"k":"Volumen EEX"},{"d":"2010-09-07","v":20,"k":"Volumen EEX"},{"d":"2010-09-21","v":30,"k":"Volumen EEX"},{"d":"2010-10-05","v":25,"k":"Volumen EEX"},{"d":"2010-10-19","v":45,"k":"Volumen EEX"},{"d":"2010-11-02","v":20,"k":"Volumen EEX"},{"d":"2010-11-16","v":30,"k":"Volumen EEX"},{"d":"2010-11-30","v":50,"k":"Volumen EEX"},{"d":"2010-12-14","v":25,"k":"Volumen EEX"},{"d":"2010-12-28","v":20,"k":"Volumen EEX"},
      {"d":"2011-01-11","v":30,"k":"Volumen EEX"},{"d":"2011-01-25","v":25,"k":"Volumen EEX"},{"d":"2011-02-08","v":35,"k":"Volumen EEX"},{"d":"2011-02-22","v":20,"k":"Volumen EEX"},{"d":"2011-03-08","v":30,"k":"Volumen EEX"},{"d":"2011-03-22","v":25,"k":"Volumen EEX"},{"d":"2011-04-05","v":20,"k":"Volumen EEX"},{"d":"2011-04-19","v":30,"k":"Volumen EEX"}
    ]
  },
  "vconcat": [
    {
      "width": 374,
      "height": 111,
      "title": {"text": ["Preis", "Euro/t CO₂"], "anchor": "start", "frame": "bounds", "fontSize": 13, "fontWeight": "normal", "color": "#222", "lineHeight": 15.5, "offset": 4, "dx": -4, "font": "Liberation Sans"},
      "encoding": {
        "x": {"field": "d", "type": "temporal",
          "scale": {"domain": [{"year": 2005, "month": 3, "date": 7}, {"year": 2011, "month": 4, "date": 29}]},
          "axis": {"values": [{"year": 2005, "month": 8, "date": 16}, {"year": 2006, "month": 2, "date": 16}, {"year": 2006, "month": 8, "date": 16}, {"year": 2007, "month": 2, "date": 16}, {"year": 2007, "month": 8, "date": 16}, {"year": 2008, "month": 3, "date": 16}, {"year": 2008, "month": 9, "date": 16}, {"year": 2009, "month": 3, "date": 15}, {"year": 2009, "month": 9, "date": 15}, {"year": 2010, "month": 3, "date": 15}, {"year": 2010, "month": 9, "date": 15}, {"year": 2011, "month": 3, "date": 15}],
            "labelExpr": "month(datum.value) >= 6 ? timeFormat(datum.value, '%-d.%-m.%Y') : ''", "labelPadding": 3, "labelFlush": false, "labelOverlap": false, "grid": true}},
        "y": {"field": "v", "type": "quantitative", "scale": {"domain": [2.9, 35.1], "nice": false, "zero": false}, "axis": {"values": [5, 10, 15, 20, 25, 30], "labelPadding": 5, "labelOverlap": false, "grid": true}}
      },
      "layer": [
        {
          "data": {"values": [{"d": "2008-03-28", "v": 13.6, "w": "eex"}]},
          "mark": {"type": "text", "font": "'DejaVu Sans Condensed', 'Liberation Sans', sans-serif", "fontSize": 44, "fontWeight": "bold", "color": "#e9e9e9", "baseline": "alphabetic", "align": "center"},
          "encoding": {"text": {"field": "w"}}
        },
        {
          "data": {"name": "price"},
          "mark": {"type": "line", "strokeWidth": 1.1},
          "encoding": {
            "stroke": {"field": "s", "type": "nominal",
              "scale": {"domain": ["Preis", "Carbix", "EUA Primary Auction Spot"], "range": ["#6e6e6e", "#ababab", "#8a8a8a"]},
              "legend": {"orient": "none", "legendX": -23, "legendY": 286, "direction": "horizontal", "title": null, "symbolType": "square", "symbolSize": 64, "symbolFillColor": "#eeeeee", "symbolStrokeWidth": 1.5, "labelFontSize": 12, "labelOffset": 5, "columnPadding": 15}},
            "detail": {"field": "g"}
          }
        }
      ]
    },
    {
      "width": 374,
      "height": 72,
      "title": {"text": ["Volumen", "1000 t CO₂"], "anchor": "start", "frame": "bounds", "fontSize": 13, "fontWeight": "normal", "color": "#222", "lineHeight": 15.5, "offset": 4, "font": "Liberation Sans"},
      "encoding": {
        "x": {"field": "d", "type": "temporal",
          "scale": {"domain": [{"year": 2005, "month": 3, "date": 7}, {"year": 2011, "month": 4, "date": 29}]},
          "axis": {"values": [{"year": 2005, "month": 8, "date": 16}, {"year": 2006, "month": 2, "date": 16}, {"year": 2006, "month": 8, "date": 16}, {"year": 2007, "month": 2, "date": 16}, {"year": 2007, "month": 8, "date": 16}, {"year": 2008, "month": 3, "date": 16}, {"year": 2008, "month": 9, "date": 16}, {"year": 2009, "month": 3, "date": 15}, {"year": 2009, "month": 9, "date": 15}, {"year": 2010, "month": 3, "date": 15}, {"year": 2010, "month": 9, "date": 15}, {"year": 2011, "month": 3, "date": 15}],
            "labelExpr": "month(datum.value) >= 6 ? timeFormat(datum.value, '%-d.%-m.%Y') : ''", "labelPadding": 3, "labelFlush": false, "labelOverlap": false, "grid": true,
            "title": "Quelle: European Energy Exchange (EEX).", "titleAnchor": "start", "titleAlign": "left", "titleBaseline": "middle", "titleX": -22, "titleY": 84, "titleFontSize": 12, "titleFontWeight": "normal", "titleColor": "#222", "titleFont": "Liberation Sans"}},
        "y": {"field": "v", "type": "quantitative", "scale": {"domain": [-25, 915], "nice": false, "zero": false}, "axis": {"values": [250, 500], "labelPadding": 5, "labelOverlap": false, "grid": true}}
      },
      "layer": [
        {
          "data": {"name": "volume"},
          "mark": {"type": "bar", "size": 1},
          "encoding": {
            "fill": {"field": "k", "type": "nominal",
              "scale": {"domain": ["Volumen EEX", "Volumen OTC"], "range": ["#8a8a8a", "#c2c2c2"]},
              "legend": {"orient": "none", "legendX": -23, "legendY": 298.5, "direction": "horizontal", "title": null, "symbolType": "square", "symbolSize": 64, "symbolStrokeColor": "#b0b0b0", "symbolStrokeWidth": 1, "labelFontSize": 12, "labelOffset": 5, "columnPadding": 35}}
          }
        },
        {
          "data": {"values": [{"d": "2011-04-29", "v": 822, "t": "Gesamt: 34 930 912 t CO₂"}]},
          "mark": {"type": "text", "align": "right", "baseline": "middle", "dx": -4, "fontSize": 10.5, "color": "#222", "font": "Liberation Sans"},
          "encoding": {"text": {"field": "t"}}
        }
      ]
    }
  ],
  "spacing": 12
}
